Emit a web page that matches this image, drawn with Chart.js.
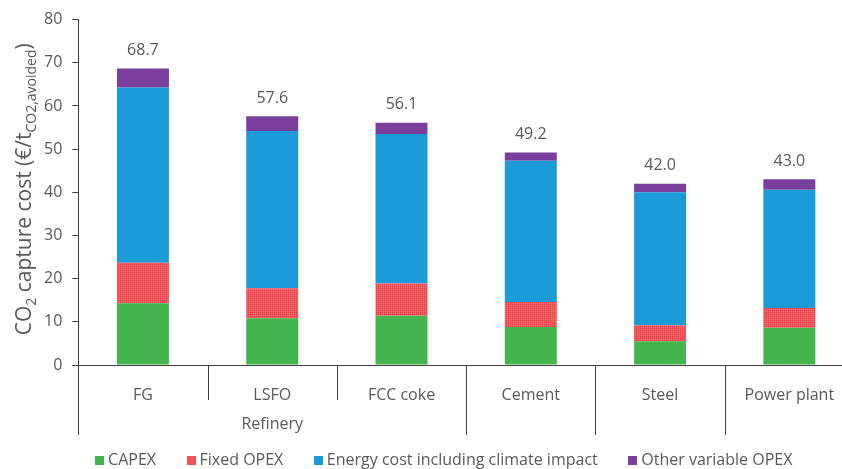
<!DOCTYPE html>
<html><head><meta charset="utf-8">
<script src="https://cdn.jsdelivr.net/npm/chart.js@4"></script>
<style>html,body{margin:0;padding:0;overflow:hidden;background:#fff;width:842px;height:469px}canvas{display:block}</style>
</head><body>
<canvas id="c" width="856" height="478"></canvas>
<script>
const categories = ['FG', 'LSFO', 'FCC coke', 'Cement', 'Steel', 'Power plant'];
const groupOf = ['Refinery', 'Refinery', 'Refinery', '', '', ''];
const capex = [14.3, 10.8, 11.4, 8.8, 5.5, 8.6];
const fixedOpex = [9.4, 7.0, 7.5, 5.8, 3.7, 4.6];
const energyCost = [40.6, 36.4, 34.6, 32.7, 30.8, 27.4];
const otherOpex = [4.4, 3.4, 2.6, 1.9, 2.0, 2.4];
const totals = [68.7, 57.6, 56.1, 49.2, 42.0, 43.0];
const seriesNames = ['CAPEX', 'Fixed OPEX', 'Energy cost including climate impact', 'Other variable OPEX'];
const yMin = 0, yMax = 80, yStep = 10;

const TEXT = '#595959';
const AXIS = '#404040';
const FONT = "'Open Sans', sans-serif";
Chart.defaults.font.family = FONT;
Chart.defaults.color = TEXT;

function redPattern() {
  const p = document.createElement('canvas');
  p.width = 2; p.height = 2;
  const g = p.getContext('2d');
  g.fillStyle = '#f0545a'; g.fillRect(0, 0, 2, 2);
  g.fillStyle = '#e7454c'; g.fillRect(0, 0, 1, 1);
  g.fillStyle = '#f66c70'; g.fillRect(1, 1, 1, 1);
  return g.createPattern(p, 'repeat');
}
function swatch(color) {
  const s = document.createElement('canvas');
  s.width = 9; s.height = 9;
  const g = s.getContext('2d');
  g.fillStyle = color; g.fillRect(0, 0, 9, 9);
  return s;
}
const colors = ['#43b54c', '#f0545a', '#1b9bd8', '#7a3f9d'];
const swatches = colors.map(swatch);

const dividerPlugin = {
  id: 'dividers',
  afterDraw(chart) {
    const xs = chart.scales.x, ctx = chart.ctx, area = chart.chartArea;
    const n = categories.length;
    const half = (xs.getPixelForValue(1) - xs.getPixelForValue(0)) / 2;
    ctx.save();
    ctx.strokeStyle = AXIS; ctx.lineWidth = 1;
    for (let i = 0; i <= n; i++) {
      const x = Math.round(i < n ? xs.getPixelForValue(i) - half : xs.getPixelForValue(n - 1) + half) + 0.5;
      const short = i > 0 && i < n && groupOf[i - 1] !== '' && groupOf[i - 1] === groupOf[i];
      ctx.beginPath();
      ctx.moveTo(x, area.bottom);
      ctx.lineTo(x, area.bottom + (short ? 35 : 70));
      ctx.stroke();
    }
    ctx.font = "16px " + FONT;
    ctx.fillStyle = TEXT;
    ctx.textAlign = 'center';
    ctx.textBaseline = 'middle';
    let i = 0;
    while (i < n) {
      let j = i;
      while (j + 1 < n && groupOf[j + 1] === groupOf[i]) j++;
      if (groupOf[i] !== '') {
        const x0 = xs.getPixelForValue(i) - half, x1 = xs.getPixelForValue(j) + half;
        ctx.fillText(groupOf[i], (x0 + x1) / 2, area.bottom + 59);
      }
      i = j + 1;
    }
    ctx.restore();
  }
};

const totalsPlugin = {
  id: 'totals',
  afterDatasetsDraw(chart) {
    const meta = chart.getDatasetMeta(chart.data.datasets.length - 1);
    const ctx = chart.ctx;
    ctx.save();
    ctx.font = "16px " + FONT;
    ctx.fillStyle = TEXT;
    ctx.textAlign = 'center';
    ctx.textBaseline = 'middle';
    meta.data.forEach((el, i) => {
      ctx.fillText(totals[i].toFixed(1), el.x, el.y - 18);
    });
    ctx.restore();
  }
};

const yTitlePlugin = {
  id: 'ytitle',
  afterDraw(chart) {
    const ctx = chart.ctx, area = chart.chartArea;
    const parts = [['CO', 0], ['2', 1], [' capture cost (€/t', 0], ['CO2,avoided', 1], [')', 0]];
    const mainF = "21px " + FONT, subF = "14px " + FONT;
    ctx.save();
    let total = 0;
    parts.forEach(p => { ctx.font = p[1] ? subF : mainF; total += ctx.measureText(p[0]).width; });
    ctx.translate(31, (area.top + area.bottom) / 2 - 3);
    ctx.rotate(-Math.PI / 2);
    ctx.fillStyle = TEXT;
    ctx.textBaseline = 'alphabetic';
    ctx.textAlign = 'left';
    let x = -total / 2;
    parts.forEach(p => {
      ctx.font = p[1] ? subF : mainF;
      ctx.fillText(p[0], x, p[1] ? 5 : 0);
      x += ctx.measureText(p[0]).width;
    });
    ctx.restore();
  }
};

const legendShift = {
  id: 'legendShift',
  afterLayout(chart) {
    if (chart.legend) { chart.legend.left += 2; chart.legend.right += 2; }
  }
};

new Chart(document.getElementById('c'), {
  type: 'bar',
  data: {
    labels: categories,
    datasets: [
      { label: seriesNames[0], data: capex, backgroundColor: colors[0] },
      { label: seriesNames[1], data: fixedOpex, backgroundColor: redPattern() },
      { label: seriesNames[2], data: energyCost, backgroundColor: colors[2] },
      { label: seriesNames[3], data: otherOpex, backgroundColor: colors[3] }
    ]
  },
  options: {
    responsive: false,
    animation: false,
    layout: { padding: { left: 34, top: 19, right: 2, bottom: 0 } },
    datasets: { bar: { categoryPercentage: 1, barPercentage: 0.402 } },
    plugins: {
      legend: {
        position: 'bottom',
        labels: {
          usePointStyle: true, pointStyleWidth: 0.5, boxHeight: 9,
          padding: 35, font: { size: 16 }, color: TEXT,
          generateLabels(chart) {
            const items = Chart.defaults.plugins.legend.labels.generateLabels(chart);
            items.forEach((it, k) => { it.pointStyle = swatches[k]; });
            return items;
          }
        }
      },
      tooltip: { enabled: false }
    },
    scales: {
      x: {
        stacked: true,
        grid: { display: false },
        border: { display: true, color: AXIS, width: 1 },
        ticks: { font: { size: 16, lineHeight: 1.2 }, color: TEXT, padding: 12.4, maxRotation: 0, autoSkip: false },
        afterFit(scale) { scale.height = 52; }
      },
      y: {
        stacked: true,
        min: yMin, max: yMax,
        grid: { display: true, drawOnChartArea: false, drawTicks: true, tickLength: 6, color: AXIS },
        border: { display: true, color: AXIS, width: 1 },
        ticks: { stepSize: yStep, font: { size: 16 }, color: TEXT, padding: 10 }
      }
    }
  },
  plugins: [dividerPlugin, totalsPlugin, yTitlePlugin, legendShift]
});
</script>
</body></html>
